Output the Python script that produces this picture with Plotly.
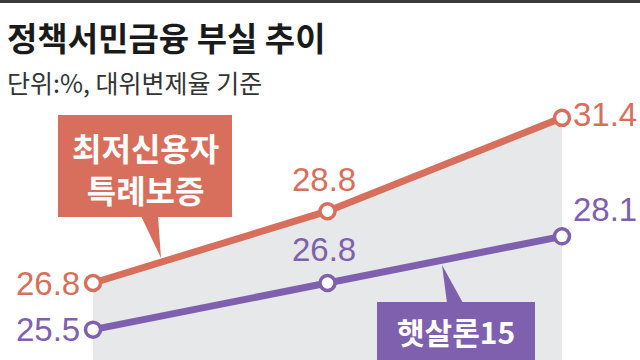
import plotly.graph_objects as go

# ---- data ----
periods = [0, 1, 2]
special_guarantee = [26.8, 28.8, 31.4]   # 최저신용자 특례보증
sunshine_loan15 = [25.5, 26.8, 28.1]     # 햇살론15
label_special = "최저신용자<br>특례보증"
label_sunshine = "햇살론15"
title_text = "정책서민금융 부실 추이"
subtitle_text = "단위:%, 대위변제율 기준"

ORANGE = "#d86f5c"
PURPLE = "#7f60ae"
GRAY = "#e7e8ea"
W, H = 640, 360

def px(x):
    return x / W

def py(y):
    return 1 - y / H

fig = go.Figure()
fig.add_trace(go.Scatter(x=periods, y=special_guarantee, mode="lines", line=dict(width=0),
                         fill="tozeroy", fillcolor=GRAY, hoverinfo="skip", showlegend=False))
for vals, col in [(special_guarantee, ORANGE), (sunshine_loan15, PURPLE)]:
    fig.add_trace(go.Scatter(x=periods, y=vals, mode="lines+markers",
                             line=dict(color=col, width=7),
                             marker=dict(size=15, color="white", line=dict(color=col, width=3.5)),
                             showlegend=False))

NUMFONT = "Liberation Sans, Arial, sans-serif"
ann = []
def lab(x, y, col, xanchor, yanchor, xshift, yshift):
    ann.append(dict(x=x, y=y, xref="x", yref="y", text=f"{y:.1f}", showarrow=False,
                    xanchor=xanchor, yanchor=yanchor, xshift=xshift, yshift=yshift,
                    font=dict(family=NUMFONT, size=33, color=col)))

s, p = special_guarantee, sunshine_loan15
lab(0, s[0], ORANGE, "right", "middle", -11, 0)
lab(1, s[1], ORANGE, "center", "middle", -4, 32)
lab(2, s[2], ORANGE, "left", "middle", 9, 3)
lab(0, p[0], PURPLE, "right", "middle", -11, 0)
lab(1, p[1], PURPLE, "center", "middle", -4, 34)
lab(2, p[2], PURPLE, "left", "middle", 9, 27)

ann.append(dict(x=px(145), y=py(168), xref="paper", yref="paper", text=f"<b>{label_special}</b>",
                showarrow=False, xanchor="center", yanchor="middle",
                font=dict(family="Noto Sans CJK KR", size=32, color="white")))
ann.append(dict(x=px(456), y=py(331), xref="paper", yref="paper", text=f"<b>{label_sunshine}</b>",
                showarrow=False, xanchor="center", yanchor="middle",
                font=dict(family="Noto Sans CJK KR", size=30, color="white")))
ann.append(dict(x=px(5), y=py(37), xref="paper", yref="paper", text=f"<b>{title_text}</b>",
                showarrow=False, xanchor="left", yanchor="middle",
                font=dict(family="Noto Sans CJK KR", size=33, color="#1a1a1a")))
ann.append(dict(x=px(5), y=py(82), xref="paper", yref="paper", text=subtitle_text,
                showarrow=False, xanchor="left", yanchor="middle",
                font=dict(family="Noto Sans CJK KR", size=25, color="#333333")))

shapes = [
    dict(type="rect", xref="paper", yref="paper", x0=0, x1=1, y0=py(3), y1=1,
         fillcolor="#3a3a3a", line=dict(width=0)),
    dict(type="rect", xref="paper", yref="paper", x0=px(58), x1=px(232), y0=py(217), y1=py(115),
         fillcolor=ORANGE, line=dict(width=0)),
    dict(type="path", xref="paper", yref="paper",
         path=f"M {px(141)},{py(216)} L {px(158)},{py(216)} L {px(161)},{py(258)} Z",
         fillcolor=ORANGE, line=dict(width=0)),
    dict(type="rect", xref="paper", yref="paper", x0=px(377), x1=px(535), y0=py(362), y1=py(302),
         fillcolor=PURPLE, line=dict(width=0)),
    dict(type="path", xref="paper", yref="paper",
         path=f"M {px(447)},{py(303)} L {px(463)},{py(303)} L {px(442)},{py(265)} Z",
         fillcolor=PURPLE, line=dict(width=0)),
]

fig.update_layout(
    width=W, height=H, margin=dict(l=0, r=0, t=0, b=0),
    paper_bgcolor="white", plot_bgcolor="white",
    xaxis=dict(range=[-93 / 234.5, 547 / 234.5], visible=False, fixedrange=True),
    yaxis=dict(range=[24.655, 34.683], visible=False, fixedrange=True),
    annotations=ann, shapes=shapes, showlegend=False,
)
fig.write_html("out.html")
